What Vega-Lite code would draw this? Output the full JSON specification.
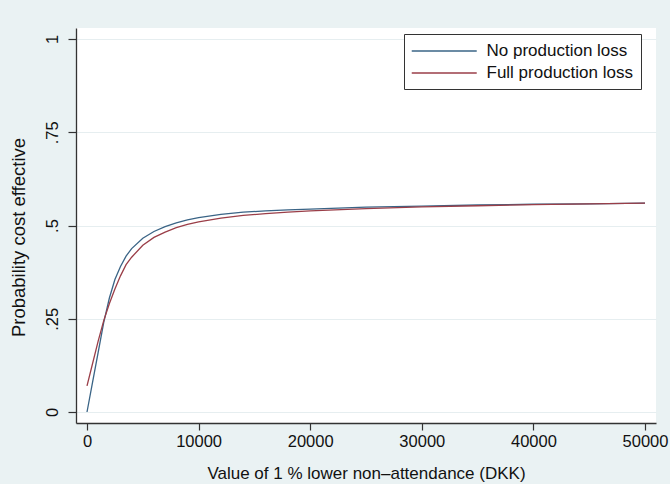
{
  "$schema": "https://vega.github.io/schema/vega-lite/v6.json",
  "width": 580,
  "height": 395,
  "autosize": {"type": "none"},
  "padding": {"left": 76, "top": 28, "right": 14, "bottom": 61},
  "background": "#eaf2f3",
  "config": {
    "font": "Liberation Sans",
    "view": {"fill": "white", "stroke": null},
    "axis": {"labelFont": "Liberation Sans", "titleFont": "Liberation Sans", "labelColor": "#111", "titleColor": "#111", "titleFontWeight": "normal", "domainColor": "#333", "tickColor": "#333", "domainWidth": 1.3, "tickWidth": 1.2}
  },
  "data": {
    "values": [
      {"x": 0, "p": 0, "s": "No production loss"},
      {"x": 500, "p": 0.08, "s": "No production loss"},
      {"x": 1000, "p": 0.16, "s": "No production loss"},
      {"x": 1500, "p": 0.24, "s": "No production loss"},
      {"x": 2000, "p": 0.305, "s": "No production loss"},
      {"x": 2500, "p": 0.355, "s": "No production loss"},
      {"x": 3000, "p": 0.39, "s": "No production loss"},
      {"x": 3500, "p": 0.418, "s": "No production loss"},
      {"x": 4000, "p": 0.438, "s": "No production loss"},
      {"x": 5000, "p": 0.466, "s": "No production loss"},
      {"x": 6000, "p": 0.484, "s": "No production loss"},
      {"x": 7000, "p": 0.497, "s": "No production loss"},
      {"x": 8000, "p": 0.507, "s": "No production loss"},
      {"x": 9000, "p": 0.515, "s": "No production loss"},
      {"x": 10000, "p": 0.521, "s": "No production loss"},
      {"x": 12000, "p": 0.53, "s": "No production loss"},
      {"x": 14000, "p": 0.536, "s": "No production loss"},
      {"x": 16000, "p": 0.539, "s": "No production loss"},
      {"x": 18000, "p": 0.542, "s": "No production loss"},
      {"x": 20000, "p": 0.544, "s": "No production loss"},
      {"x": 25000, "p": 0.549, "s": "No production loss"},
      {"x": 30000, "p": 0.552, "s": "No production loss"},
      {"x": 35000, "p": 0.555, "s": "No production loss"},
      {"x": 40000, "p": 0.557, "s": "No production loss"},
      {"x": 45000, "p": 0.558, "s": "No production loss"},
      {"x": 50000, "p": 0.56, "s": "No production loss"},
      {"x": 0, "p": 0.07, "s": "Full production loss"},
      {"x": 500, "p": 0.13, "s": "Full production loss"},
      {"x": 1000, "p": 0.19, "s": "Full production loss"},
      {"x": 1500, "p": 0.245, "s": "Full production loss"},
      {"x": 2000, "p": 0.29, "s": "Full production loss"},
      {"x": 2500, "p": 0.33, "s": "Full production loss"},
      {"x": 3000, "p": 0.365, "s": "Full production loss"},
      {"x": 3500, "p": 0.395, "s": "Full production loss"},
      {"x": 4000, "p": 0.415, "s": "Full production loss"},
      {"x": 5000, "p": 0.447, "s": "Full production loss"},
      {"x": 6000, "p": 0.468, "s": "Full production loss"},
      {"x": 7000, "p": 0.482, "s": "Full production loss"},
      {"x": 8000, "p": 0.494, "s": "Full production loss"},
      {"x": 9000, "p": 0.503, "s": "Full production loss"},
      {"x": 10000, "p": 0.51, "s": "Full production loss"},
      {"x": 12000, "p": 0.52, "s": "Full production loss"},
      {"x": 14000, "p": 0.527, "s": "Full production loss"},
      {"x": 16000, "p": 0.532, "s": "Full production loss"},
      {"x": 18000, "p": 0.536, "s": "Full production loss"},
      {"x": 20000, "p": 0.539, "s": "Full production loss"},
      {"x": 25000, "p": 0.545, "s": "Full production loss"},
      {"x": 30000, "p": 0.55, "s": "Full production loss"},
      {"x": 35000, "p": 0.553, "s": "Full production loss"},
      {"x": 40000, "p": 0.556, "s": "Full production loss"},
      {"x": 45000, "p": 0.558, "s": "Full production loss"},
      {"x": 50000, "p": 0.56, "s": "Full production loss"}
    ]
  },
  "mark": {"type": "line", "strokeWidth": 1.3, "interpolate": "linear"},
  "encoding": {
    "x": {
      "field": "x", "type": "quantitative",
      "scale": {"domain": [-986, 50986], "nice": false, "zero": false},
      "axis": {"values": [0, 10000, 20000, 30000, 40000, 50000], "format": "d", "grid": false, "tickSize": 7, "labelPadding": 3, "labelFontSize": 16.5, "labelFlush": false, "title": "Value of 1 % lower non\u2013attendance (DKK)", "titleFontSize": 17, "titlePadding": 16}
    },
    "y": {
      "field": "p", "type": "quantitative",
      "scale": {"domain": [-0.0295, 1.0295], "nice": false, "zero": false},
      "axis": {"values": [0, 0.25, 0.5, 0.75, 1], "labelExpr": "datum.value == 0 ? '0' : datum.value == 1 ? '1' : replace(format(datum.value, '.2~f'), '0.', '.')", "labelAngle": -90, "labelAlign": "center", "labelBaseline": "bottom", "labelFontSize": 16.5, "labelPadding": 8, "tickSize": 8, "grid": true, "gridColor": "#e6eef0", "gridWidth": 1, "labelFlush": false, "title": "Probability cost effective", "titleFontSize": 18.5, "titleAngle": -90, "titleAlign": "center", "titleBaseline": "middle", "titleX": -58, "titleY": 209}
    },
    "color": {
      "field": "s", "type": "nominal",
      "scale": {"domain": ["No production loss", "Full production loss"], "range": ["#3a6486", "#9a3e48"]},
      "legend": {"title": null, "orient": "none", "legendX": 328, "legendY": 6, "direction": "vertical", "strokeColor": "#333", "fillColor": "white", "padding": 8, "symbolType": "M-1.14,0H6.86", "symbolSize": 264, "symbolStrokeWidth": 1.5, "labelFontSize": 17, "labelFont": "Liberation Sans", "labelColor": "#111", "labelOffset": 56.5, "rowPadding": 5}
    }
  }
}
